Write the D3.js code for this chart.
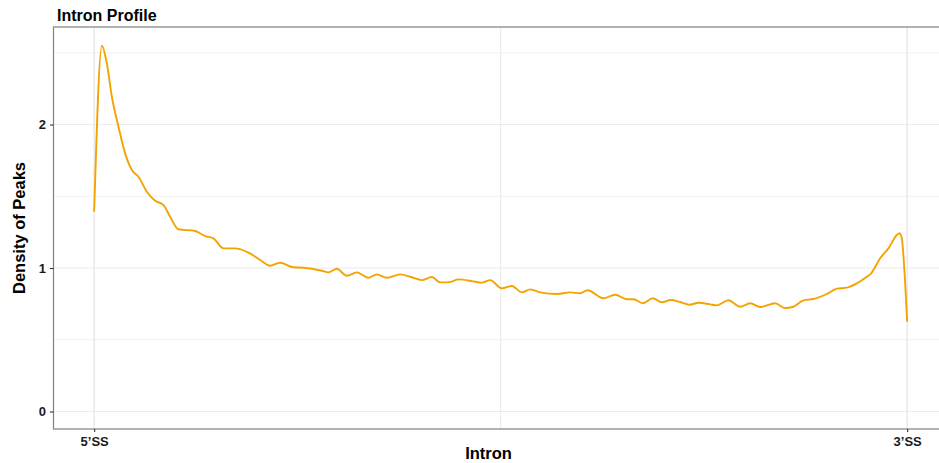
<!DOCTYPE html>
<html>
<head>
<meta charset="utf-8">
<script src="https://cdn.jsdelivr.net/npm/d3@7"></script>
<style>
  html, body { margin: 0; padding: 0; background: #fff; }
  svg { display: block; font-family: "Liberation Sans", Arial, sans-serif; }
</style>
</head>
<body>
<svg id="chart" width="939" height="463"></svg>
<script>
// ---- data (relative position along intron, 0 = 5'SS, 1 = 3'SS) ----
const position = [0.000, 0.0095, 0.0156, 0.0218, 0.0299, 0.0381, 0.0464, 0.0545, 0.0648, 0.0750,
  0.0852, 0.0935, 0.1037, 0.1242, 0.1365, 0.1467, 0.1590, 0.1734, 0.1898, 0.2042,
  0.2165, 0.2288, 0.2451, 0.2574, 0.2801, 0.2882, 0.2985, 0.3108, 0.3231, 0.3374,
  0.3477, 0.3600, 0.3764, 0.3887, 0.4031, 0.4154, 0.4256, 0.4379, 0.4481, 0.4646,
  0.4769, 0.4871, 0.5015, 0.5138, 0.5261, 0.5363, 0.5486, 0.5691, 0.5855, 0.5978,
  0.6068, 0.6264, 0.6408, 0.6552, 0.6636, 0.6749, 0.6872, 0.6983, 0.7093, 0.7208,
  0.7322, 0.7433, 0.7577, 0.7659, 0.7802, 0.7946, 0.8069, 0.8192, 0.8377, 0.8500,
  0.8601, 0.8725, 0.8847, 0.9012, 0.9135, 0.9258, 0.9381, 0.9504, 0.9557, 0.9668,
  0.9770, 0.9873, 0.9905, 0.9934, 0.9966, 1.000];
const density = [1.392, 2.549, 2.426, 2.194, 1.985, 1.799, 1.683, 1.636, 1.532, 1.469,
  1.439, 1.357, 1.270, 1.258, 1.223, 1.207, 1.137, 1.137, 1.107, 1.056,
  1.016, 1.037, 1.005, 1.002, 0.981, 0.970, 0.995, 0.946, 0.970, 0.932,
  0.956, 0.932, 0.956, 0.939, 0.916, 0.937, 0.900, 0.902, 0.921, 0.909,
  0.898, 0.916, 0.858, 0.875, 0.830, 0.851, 0.830, 0.819, 0.830, 0.824,
  0.845, 0.789, 0.814, 0.782, 0.782, 0.754, 0.789, 0.761, 0.777, 0.763,
  0.744, 0.758, 0.747, 0.740, 0.775, 0.730, 0.754, 0.728, 0.754, 0.721,
  0.730, 0.775, 0.784, 0.819, 0.856, 0.863, 0.893, 0.939, 0.963, 1.068,
  1.137, 1.230, 1.242, 1.207, 0.986, 0.626];

const xTickValues = [0, 1];
const xTickLabels = ["5\u2019SS", "3\u2019SS"];
const yTickValues = [0, 1, 2];
const yMinorGrid = [0.5, 1.5, 2.5];
const xMinorGrid = [0.5];

const titleText = "Intron Profile";
const xTitle = "Intron";
const yTitle = "Density of Peaks";

// ---- layout ----
const svg = d3.select("#chart");
const panel = { left: 53.5, top: 27, right: 947.8, bottom: 429 };

const x = d3.scaleLinear().domain([-0.05, 1.05]).range([panel.left, panel.right]);
const y = d3.scaleLinear().domain([-0.122, 2.68]).range([panel.bottom, panel.top]);

// gridlines
const grid = svg.append("g");
grid.selectAll("line.ymin").data(yMinorGrid).join("line")
  .attr("x1", panel.left).attr("x2", panel.right)
  .attr("y1", d => y(d)).attr("y2", d => y(d))
  .attr("stroke", "#f2f2f2").attr("stroke-width", 1);
grid.selectAll("line.xmin").data(xMinorGrid).join("line")
  .attr("y1", panel.top).attr("y2", panel.bottom)
  .attr("x1", d => x(d)).attr("x2", d => x(d))
  .attr("stroke", "#ebebeb").attr("stroke-width", 1);
grid.selectAll("line.ymaj").data(yTickValues).join("line")
  .attr("x1", panel.left).attr("x2", panel.right)
  .attr("y1", d => y(d)).attr("y2", d => y(d))
  .attr("stroke", "#ebebeb").attr("stroke-width", 1.1);
grid.selectAll("line.xmaj").data(xTickValues).join("line")
  .attr("y1", panel.top).attr("y2", panel.bottom)
  .attr("x1", d => x(d)).attr("x2", d => x(d))
  .attr("stroke", "#e6e6e6").attr("stroke-width", 1.3);

// curve
const line = d3.line()
  .x((d, i) => x(position[i]))
  .y(d => y(d))
  .curve(d3.curveMonotoneX);
svg.append("path")
  .datum(density)
  .attr("d", line)
  .attr("fill", "none")
  .attr("stroke", "#F5A300")
  .attr("stroke-width", 1.9)
  .attr("stroke-linejoin", "round");

// panel border
svg.append("rect")
  .attr("x", panel.left).attr("y", panel.top)
  .attr("width", panel.right - panel.left).attr("height", panel.bottom - panel.top)
  .attr("fill", "none").attr("stroke", "#808080").attr("stroke-width", 1.2);

// axes
const yAxis = d3.axisLeft(y).tickValues(yTickValues).tickSize(3.5).tickPadding(4)
  .tickFormat(d3.format("d"));
const gy = svg.append("g").attr("transform", `translate(${panel.left},0)`).call(yAxis);
gy.select(".domain").remove();
gy.selectAll(".tick line").attr("stroke", "#333").attr("stroke-width", 1.1);
gy.selectAll(".tick text").attr("font-size", 13).attr("font-weight", "bold")
  .attr("fill", "#1a1a1a").attr("font-family", "'Liberation Sans', Arial, sans-serif");

const xAxis = d3.axisBottom(x).tickValues(xTickValues).tickSize(3).tickPadding(5)
  .tickFormat((d, i) => xTickLabels[i]);
const gx = svg.append("g").attr("transform", `translate(0,${panel.bottom})`).call(xAxis);
gx.select(".domain").remove();
gx.selectAll(".tick line").attr("stroke", "#333").attr("stroke-width", 1.1);
gx.selectAll(".tick text").attr("font-size", 13).attr("font-weight", "bold")
  .attr("fill", "#1a1a1a").attr("font-family", "'Liberation Sans', Arial, sans-serif");

// titles
svg.append("text").attr("x", 57).attr("y", 20.5)
  .attr("font-size", 16).attr("font-weight", "bold").attr("fill", "#000")
  .text(titleText);
svg.append("text").attr("x", 488.5).attr("y", 459)
  .attr("text-anchor", "middle")
  .attr("font-size", 16.5).attr("font-weight", "bold").attr("fill", "#000")
  .text(xTitle);
svg.append("text")
  .attr("transform", `translate(25,${(panel.top + panel.bottom) / 2}) rotate(-90)`)
  .attr("text-anchor", "middle")
  .attr("font-size", 16.5).attr("font-weight", "bold").attr("fill", "#000")
  .text(yTitle);
</script>
</body>
</html>
